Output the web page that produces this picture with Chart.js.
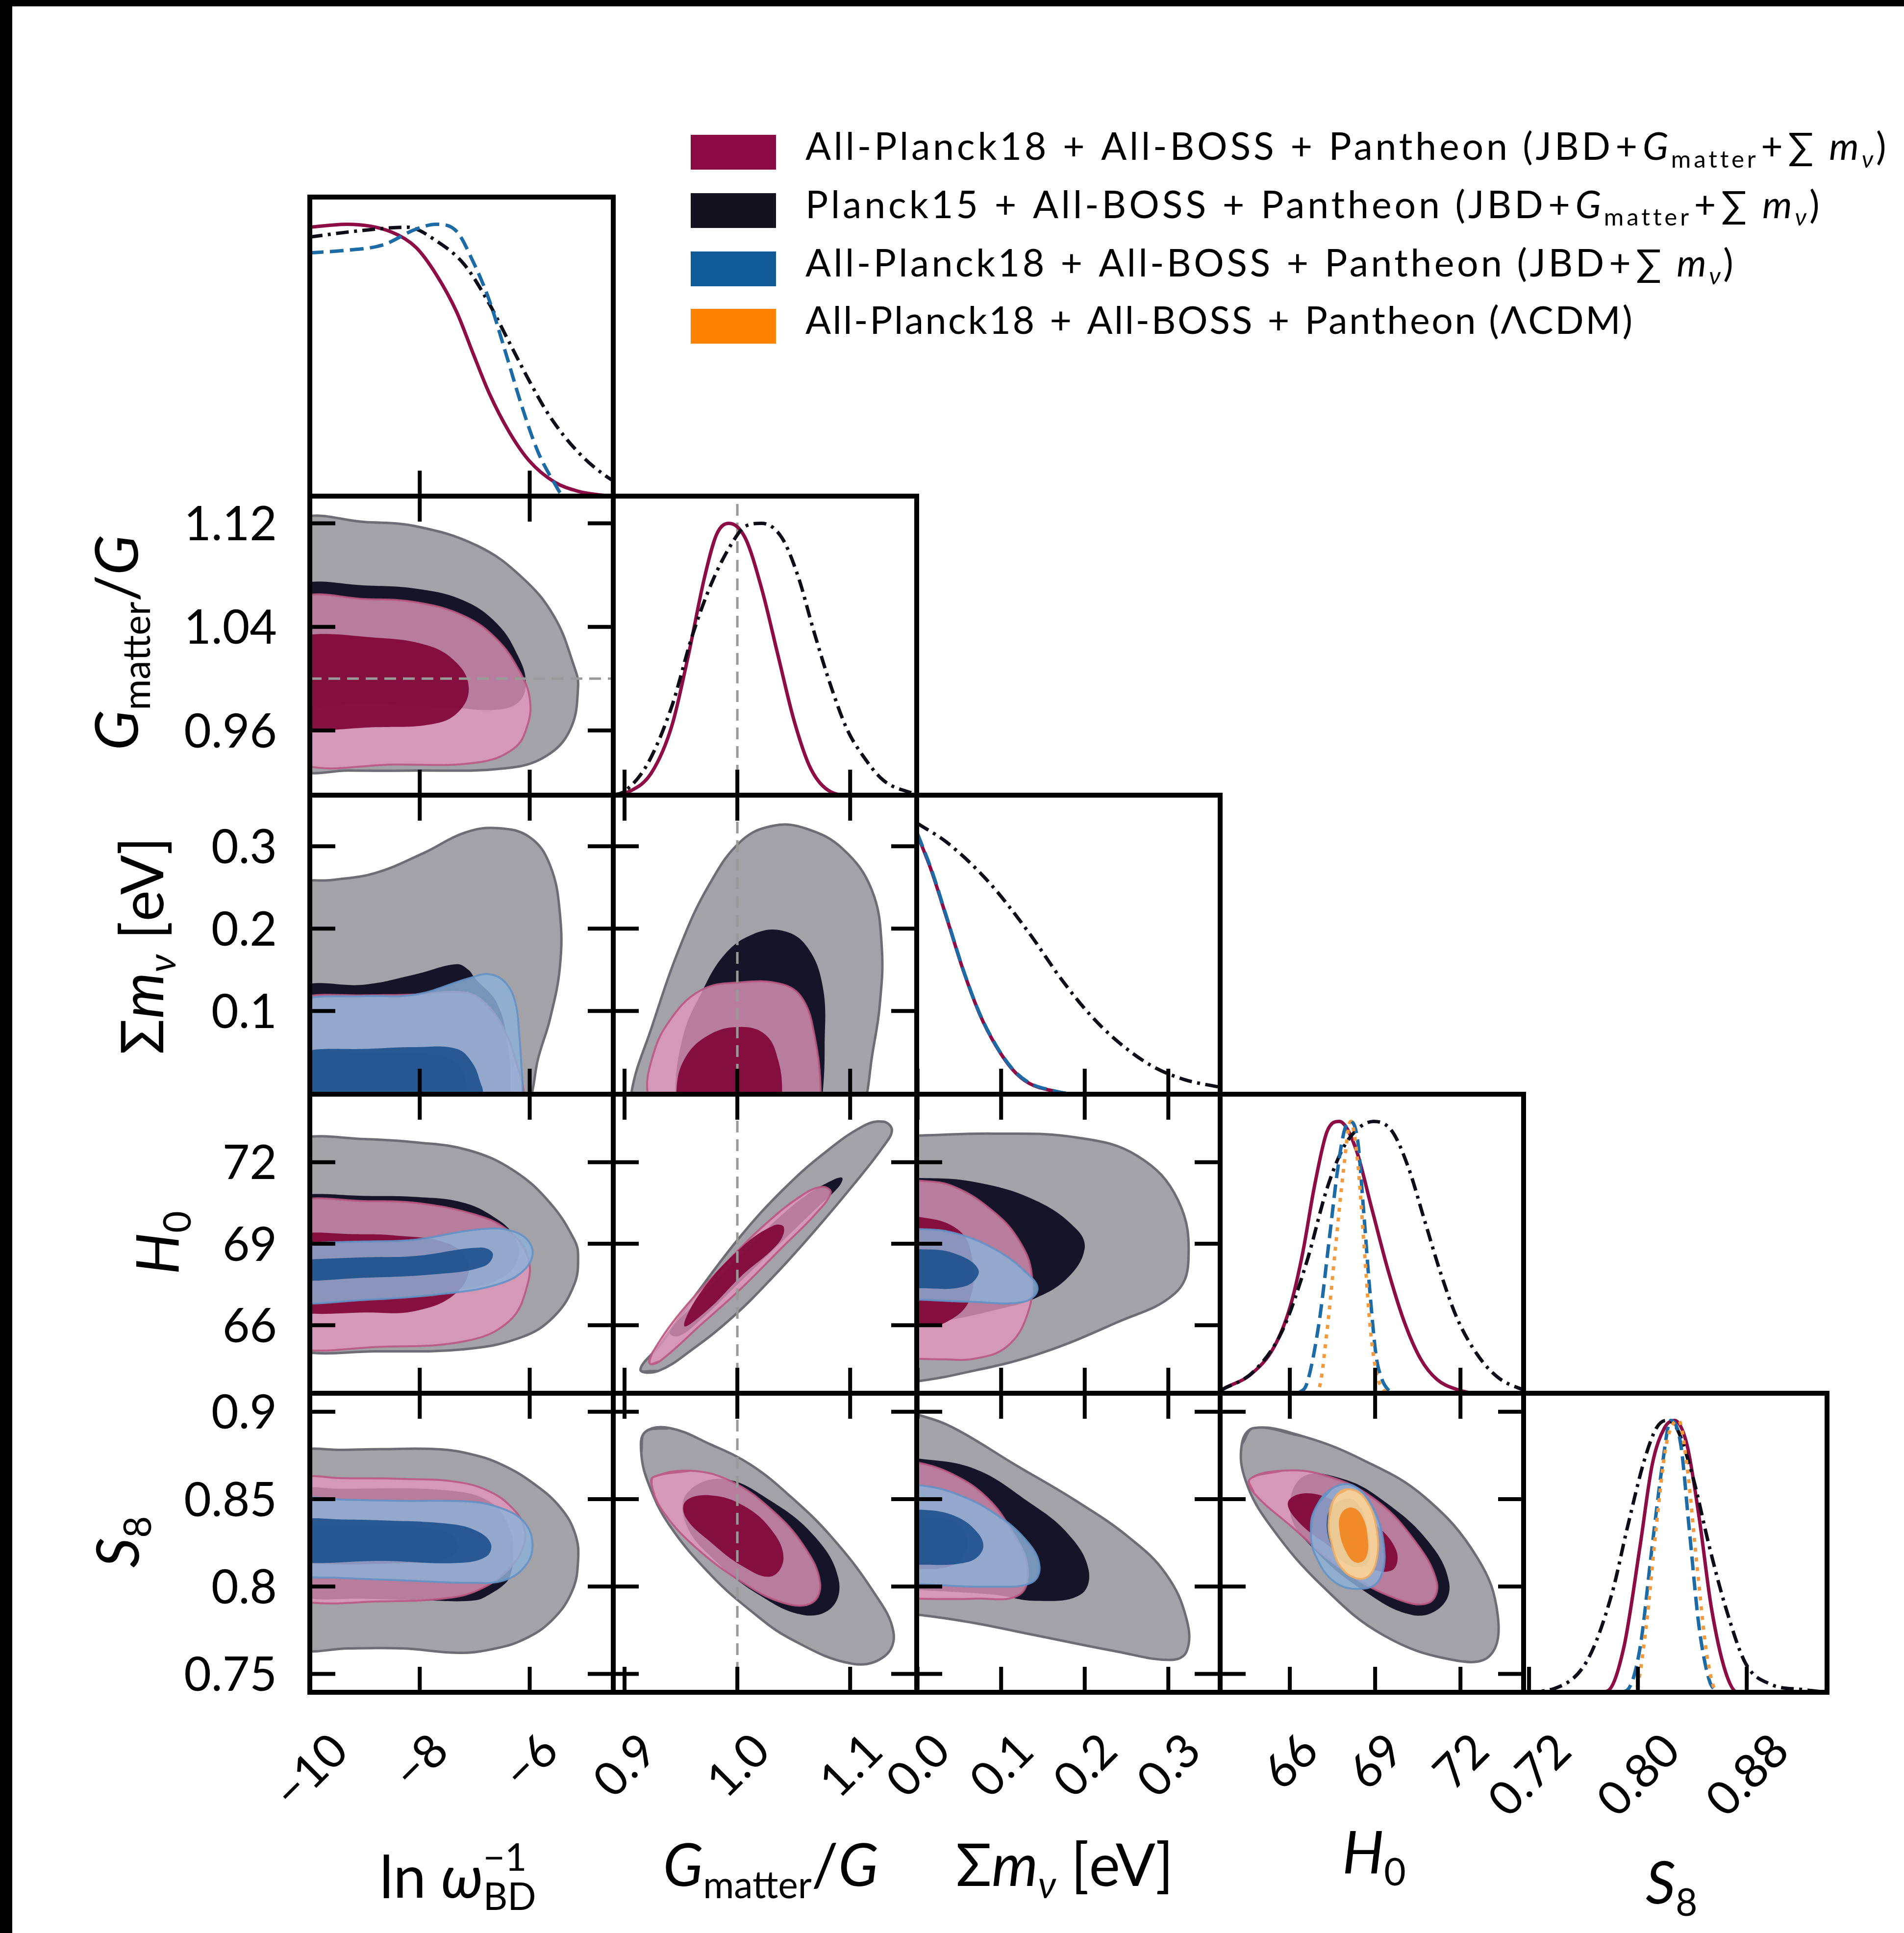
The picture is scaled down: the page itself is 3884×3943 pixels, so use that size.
<!DOCTYPE html>
<html>
<head>
<meta charset="utf-8">
<title>JBD + Gmatter + neutrino mass constraints</title>
<script src="https://cdn.jsdelivr.net/npm/chart.js@4.4.1/dist/chart.umd.min.js"></script>
<style>
  html, body { margin: 0; padding: 0; }
  body { width: 3884px; height: 3943px; position: relative; overflow: hidden; background: #fff;
         font-family: Lato, 'DejaVu Sans', sans-serif; color: #000; }
  .edge-top { position: absolute; left: 0; top: 0; width: 3884px; height: 13px; background: #000; }
  .edge-left { position: absolute; left: 0; top: 0; width: 25px; height: 3943px; background: #000; }
  canvas { position: absolute; }
  .lbl { position: absolute; white-space: nowrap; line-height: 1.2; }
  .lbl i { font-style: italic; }
  .sb { font-size: 0.64em; position: relative; top: 0.32em; }
  .sp { font-size: 0.64em; position: relative; top: -0.72em; }
  .op { margin: 0 0.36em; }
  .opi { margin: 0 0.06em; }
  .bl { display: inline-block; width: 0; height: 0; }
  .key { position: absolute; width: 174px; height: 71px; }
</style>
</head>
<body>
<div class="edge-top"></div>
<div class="edge-left"></div>
<script>
// ---- axis ranges and ticks ----
const lnwRange = [-10, -4.48];
const gRangeX = [0.890, 1.159];
const gRangeY = [0.910, 1.141];
const mnuRange = [-0.001, 0.362];
const h0RangeX = [63.55, 74.22];
const h0RangeY = [63.5, 74.5];
const s8RangeX = [0.716, 0.939];
const s8RangeY = [0.7395, 0.9106];
const pdfRange = [0, 1.1];

const lnwTicks = [-10, -8, -6];
const lnwTickLabels = ['\u221210', '\u22128', '\u22126'];
const gTicksX = [0.9, 1.0, 1.1];
const gTickLabelsX = ['0.9', '1.0', '1.1'];
const gTicksY = [0.96, 1.04, 1.12];
const gTickLabelsY = ['0.96', '1.04', '1.12'];
const mnuTicksX = [0.0, 0.1, 0.2, 0.3];
const mnuTickLabelsX = ['0.0', '0.1', '0.2', '0.3'];
const mnuTicksY = [0.1, 0.2, 0.3];
const mnuTickLabelsY = ['0.1', '0.2', '0.3'];
const h0Ticks = [66, 69, 72];
const h0TickLabels = ['66', '69', '72'];
const s8TicksX = [0.72, 0.80, 0.88];
const s8TickLabelsX = ['0.72', '0.80', '0.88'];
const s8TicksY = [0.75, 0.8, 0.85, 0.9];
const s8TickLabelsY = ['0.75', '0.8', '0.85', '0.9'];

// ---- 1D marginals (normalised to peak 1) ----
const lnwRed = [[-10.0,0.989],[-9.33,1.0],[-8.52,0.972],[-8.07,0.915],[-7.70,0.815],[-7.33,0.678],[-7.04,0.53],[-6.74,0.38],[-6.37,0.235],[-6.0,0.128],[-5.55,0.052],[-5.12,0.018],[-4.7,0.004],[-4.4,0.0]];
const lnwBlack = [[-10.0,0.953],[-9.19,0.974],[-8.22,0.989],[-7.70,0.939],[-7.19,0.852],[-6.74,0.709],[-6.37,0.565],[-6.0,0.421],[-5.63,0.292],[-5.12,0.162],[-4.52,0.061],[-4.3,0.04]];
const lnwBlue = [[-10.0,0.895],[-9.41,0.903],[-8.67,0.924],[-8.07,0.982],[-7.70,1.0],[-7.33,0.974],[-7.04,0.867],[-6.74,0.723],[-6.45,0.536],[-6.15,0.335],[-5.85,0.163],[-5.55,0.048],[-5.41,0.006],[-5.2,0.0],[-4.4,0.0]];

const gRed = [[0.885,0.0],[0.905,0.015],[0.924,0.083],[0.942,0.256],[0.9566,0.515],[0.971,0.803],[0.9817,0.96],[0.9926,1.0],[1.007,0.946],[1.0216,0.759],[1.036,0.515],[1.0505,0.271],[1.065,0.098],[1.083,0.012],[1.10,0.0],[1.16,0.0]];
const gBlack = [[0.888,0.0],[0.899,0.012],[0.920,0.112],[0.942,0.328],[0.960,0.586],[0.978,0.788],[0.996,0.932],[1.007,0.989],[1.0216,1.0],[1.0396,0.946],[1.054,0.803],[1.068,0.60],[1.083,0.40],[1.0973,0.242],[1.112,0.141],[1.1296,0.054],[1.16,0.0]];

const mnuRed = [[0.0,0.953],[0.0164,0.824],[0.036,0.637],[0.0553,0.45],[0.0747,0.292],[0.094,0.177],[0.1139,0.09],[0.1335,0.04],[0.1626,0.012],[0.19,0.0],[0.363,0.0]];
const mnuBlack = [[0.0,0.996],[0.036,0.924],[0.085,0.781],[0.1335,0.593],[0.1725,0.421],[0.2065,0.292],[0.2406,0.191],[0.2797,0.105],[0.319,0.054],[0.363,0.025]];
const mnuBlue = [[0.0,0.958],[0.0164,0.828],[0.036,0.64],[0.0553,0.452],[0.0747,0.294],[0.094,0.179],[0.1139,0.092],[0.1335,0.042],[0.1626,0.013],[0.19,0.0],[0.363,0.0]];

const h0Red = [[63.55,0.008],[63.74,0.02],[64.6,0.067],[65.45,0.171],[66.02,0.321],[66.45,0.515],[66.88,0.769],[67.31,0.963],[67.74,1.0],[68.31,0.903],[68.88,0.68],[69.45,0.454],[70.03,0.261],[70.6,0.126],[71.17,0.051],[71.88,0.014],[72.6,0.0],[74.22,0.0]];
const h0Black = [[63.55,0.01],[64.74,0.081],[65.74,0.231],[66.6,0.485],[67.31,0.754],[67.88,0.903],[68.45,0.978],[68.95,1.0],[69.6,0.963],[70.17,0.83],[70.74,0.635],[71.31,0.44],[71.88,0.276],[72.6,0.141],[73.31,0.059],[74.17,0.014],[74.3,0.01]];
const h0Blue = [[66.3,0.0],[66.6,0.036],[67.03,0.261],[67.38,0.56],[67.67,0.814],[67.91,0.963],[68.1,1.0],[68.38,0.934],[68.6,0.664],[68.81,0.38],[69.03,0.141],[69.24,0.051],[69.45,0.014],[69.7,0.0]];
const h0Orange = [[66.8,0.0],[67.03,0.02],[67.31,0.231],[67.6,0.53],[67.88,0.814],[68.14,1.0],[68.38,0.858],[68.6,0.56],[68.81,0.261],[69.03,0.081],[69.24,0.02],[69.45,0.0]];

const s8Red = [[0.770,0.0],[0.7777,0.005],[0.7896,0.164],[0.8016,0.538],[0.8105,0.837],[0.8195,0.972],[0.827,1.0],[0.836,0.912],[0.845,0.643],[0.8539,0.314],[0.8644,0.075],[0.8733,0.0],[0.88,0.0]];
const s8Black = [[0.716,0.0],[0.7387,0.014],[0.763,0.119],[0.7807,0.359],[0.7926,0.613],[0.8047,0.853],[0.8136,0.972],[0.8209,1.0],[0.8285,0.972],[0.8404,0.792],[0.8524,0.538],[0.8644,0.314],[0.8793,0.105],[0.8973,0.03],[0.921,0.01],[0.939,0.0]];
const s8Blue = [[0.787,0.0],[0.7926,0.01],[0.8016,0.164],[0.8105,0.538],[0.818,0.837],[0.824,1.0],[0.8315,0.912],[0.8375,0.613],[0.845,0.239],[0.8524,0.045],[0.858,0.0]];
const s8Orange = [[0.794,0.0],[0.7986,0.01],[0.806,0.239],[0.8136,0.613],[0.8209,0.912],[0.83,1.0],[0.836,0.837],[0.8435,0.463],[0.8508,0.134],[0.8584,0.0],[0.862,0.0]];

// ---- 2D contours (68% and 95% boundaries) ----
const lnwG_black95 = [[-10.85,1.027],[-10.7,1.095],[-10.2,1.1235],[-9.0,1.121],[-8.07,1.1177],[-6.96,1.1028],[-6.15,1.0786],[-5.56,1.0483],[-5.19,1.0092],[-5.12,0.994],[-5.26,0.961],[-5.71,0.94],[-6.45,0.9307],[-8.07,0.929],[-9.3,0.929],[-10.2,0.93],[-10.7,0.96]];
const lnwG_black68 = [[-10.85,1.027],[-10.7,1.058],[-10.2,1.0735],[-9.0,1.072],[-8.07,1.0695],[-7.21,1.0605],[-6.59,1.0423],[-6.22,1.0182],[-6.07,0.997],[-6.2,0.982],[-6.6,0.976],[-7.5,0.978],[-9.0,0.98],[-10.2,0.98],[-10.7,0.995]];
const lnwG_red95 = [[-10.85,0.998],[-10.7,1.04],[-10.2,1.063],[-9.0,1.0615],[-8.07,1.059],[-7.19,1.0483],[-6.59,1.03],[-6.19,1.006],[-6.0,0.985],[-6.04,0.964],[-6.29,0.946],[-6.96,0.9352],[-8.45,0.9337],[-10.2,0.934],[-10.7,0.96]];
const lnwG_red68 = [[-10.85,0.997],[-10.7,1.02],[-10.2,1.033],[-8.81,1.0317],[-7.85,1.0256],[-7.33,1.0122],[-7.11,0.994],[-7.26,0.976],[-7.7,0.9655],[-8.81,0.9625],[-10.2,0.962],[-10.7,0.975]];

const lnwMnu_black95 = [[-10.9,0.13],[-10.7,0.225],[-10.2,0.255],[-9.6,0.259],[-8.81,0.2675],[-7.93,0.2917],[-7.19,0.3163],[-6.59,0.322],[-6.0,0.311],[-5.63,0.277],[-5.45,0.218],[-5.45,0.154],[-5.63,0.0906],[-5.85,0.0414],[-5.96,0.0],[-6.1,-0.03],[-6.6,-0.045],[-8.5,-0.05],[-10.3,-0.04],[-10.8,0.02]];
const lnwMnu_black68 = [[-10.8,0.02],[-10.75,0.09],[-10.2,0.1295],[-9.0,0.132],[-8.07,0.1446],[-7.33,0.1568],[-7.11,0.1497],[-7.0,0.14],[-6.6,0.11],[-6.4,0.06],[-6.35,0.0],[-6.45,-0.03],[-8.0,-0.045],[-10.3,-0.035]];
const lnwMnu_red95 = [[-10.85,0.06],[-10.6,0.105],[-10.1,0.1177],[-9.0,0.119],[-8.07,0.12],[-7.19,0.1225],[-6.82,0.11],[-6.45,0.0757],[-6.22,0.032],[-6.11,0.0],[-6.2,-0.03],[-6.7,-0.045],[-8.5,-0.05],[-10.3,-0.04],[-10.8,0.0]];
const lnwMnu_red68 = [[-10.6,0.035],[-10.1,0.049],[-9.0,0.05],[-7.8,0.048],[-7.3,0.035],[-7.15,0.0],[-7.3,-0.03],[-8.5,-0.045],[-10.3,-0.035],[-10.8,0.0]];
const lnwMnu_blue95 = [[-10.85,0.06],[-10.6,0.1],[-10.1,0.115],[-9.0,0.118],[-8.07,0.12],[-7.11,0.1396],[-6.74,0.1446],[-6.45,0.135],[-6.26,0.11],[-6.19,0.0709],[-6.15,0.032],[-6.13,0.0],[-6.2,-0.03],[-6.7,-0.045],[-8.5,-0.05],[-10.3,-0.04],[-10.8,0.0]];
const lnwMnu_blue68 = [[-10.6,0.038],[-10.1,0.0515],[-9.0,0.054],[-8.07,0.0562],[-7.33,0.054],[-7.04,0.0367],[-6.89,0.012],[-6.85,0.0],[-6.95,-0.03],[-8.5,-0.045],[-10.3,-0.035],[-10.8,0.0]];

const lnwH0_black95 = [[-10.9,68.9],[-10.7,72.3],[-10.2,72.89],[-9.0,72.85],[-8.07,72.73],[-7.11,72.44],[-6.29,71.69],[-5.63,70.5],[-5.19,69.15],[-5.12,68.55],[-5.19,67.5],[-5.56,66.32],[-6.15,65.56],[-7.19,65.12],[-8.81,65.04],[-10.2,65.04],[-10.7,65.6]];
const lnwH0_black68 = [[-10.9,69.0],[-10.7,70.4],[-10.2,70.79],[-9.0,70.76],[-8.07,70.72],[-7.19,70.5],[-6.59,69.9],[-6.29,69.3],[-6.2,68.6],[-6.4,67.9],[-7.0,67.4],[-8.5,67.2],[-10.2,67.2],[-10.7,67.6]];
const lnwH0_red95 = [[-10.9,67.9],[-10.7,70.1],[-10.2,70.62],[-9.0,70.57],[-8.07,70.5],[-6.96,70.05],[-6.37,69.45],[-6.04,68.55],[-6.04,67.5],[-6.37,66.16],[-7.19,65.41],[-8.81,65.2],[-10.2,65.11],[-10.7,65.6]];
const lnwH0_red68 = [[-10.9,67.9],[-10.7,69.0],[-10.2,69.37],[-9.2,69.35],[-8.45,69.3],[-7.48,69.0],[-7.11,68.25],[-7.33,67.2],[-8.07,66.53],[-9.0,66.47],[-10.2,66.46],[-10.7,66.8]];
const lnwH0_blue95 = [[-10.9,68.0],[-10.7,68.8],[-10.2,69.0],[-9.0,69.08],[-8.07,69.15],[-6.96,69.52],[-6.29,69.45],[-5.96,68.86],[-6.07,68.1],[-6.59,67.5],[-7.7,67.13],[-9.19,66.91],[-10.2,66.82],[-10.7,67.1]];
const lnwH0_blue68 = [[-10.85,68.05],[-10.7,68.3],[-10.2,68.4],[-9.0,68.5],[-8.07,68.55],[-6.89,68.86],[-6.67,68.63],[-6.82,68.18],[-7.7,67.88],[-9.19,67.73],[-10.2,67.64],[-10.7,67.8]];

const lnwS8_black95 = [[-10.9,0.82],[-10.7,0.869],[-10.2,0.8779],[-9.4,0.8782],[-8.7,0.8786],[-7.7,0.8786],[-7.1,0.876],[-6.51,0.8698],[-5.91,0.8585],[-5.43,0.8447],[-5.17,0.8298],[-5.12,0.8147],[-5.23,0.7973],[-5.59,0.7809],[-6.11,0.7697],[-6.71,0.764],[-7.31,0.7621],[-8.3,0.7646],[-9.3,0.7646],[-10.2,0.7635],[-10.7,0.772]];
const lnwS8_black68 = [[-10.9,0.825],[-10.7,0.847],[-10.2,0.856],[-9.5,0.856],[-7.5,0.855],[-6.7,0.848],[-6.35,0.832],[-6.3,0.815],[-6.36,0.806],[-6.45,0.8016],[-6.71,0.7959],[-7.0,0.7921],[-7.9,0.7921],[-9.0,0.793],[-10.2,0.794],[-10.7,0.803]];
const lnwS8_red95 = [[-10.9,0.827],[-10.7,0.853],[-10.2,0.8623],[-9.4,0.862],[-8.3,0.8616],[-7.31,0.8598],[-6.71,0.8541],[-6.31,0.8447],[-6.11,0.8347],[-6.11,0.8234],[-6.39,0.8097],[-6.91,0.7984],[-7.5,0.7934],[-8.7,0.7915],[-10.2,0.7915],[-10.7,0.8]];
const lnwS8_red68 = [[-10.8,0.825],[-10.7,0.832],[-10.2,0.835],[-9.4,0.835],[-7.9,0.834],[-7.4,0.829],[-7.3,0.822],[-7.5,0.816],[-8.2,0.8135],[-10.2,0.8135],[-10.7,0.818]];
const lnwS8_blue95 = [[-10.9,0.828],[-10.7,0.843],[-10.2,0.8504],[-9.4,0.8497],[-8.3,0.849],[-7.1,0.8486],[-6.51,0.8447],[-6.11,0.8372],[-5.95,0.8248],[-6.07,0.8122],[-6.47,0.8035],[-7.1,0.8022],[-8.3,0.8035],[-9.5,0.805],[-10.2,0.8063],[-10.7,0.813]];
const lnwS8_blue68 = [[-10.85,0.826],[-10.7,0.833],[-10.2,0.8385],[-9.4,0.8384],[-8.7,0.8379],[-7.5,0.836],[-6.99,0.8322],[-6.71,0.8248],[-6.79,0.8172],[-7.31,0.8135],[-8.7,0.8147],[-10.2,0.8139],[-10.7,0.819]];

const gMnu_black95 = [[1.0,-0.05],[0.95,-0.05],[0.91,-0.035],[0.906,0.0],[0.9242,0.0807],[0.9494,0.1789],[0.9747,0.2525],[1.0035,0.3065],[1.0323,0.325],[1.0612,0.3213],[1.0935,0.2967],[1.119,0.2475],[1.128,0.1789],[1.1261,0.1053],[1.119,0.0414],[1.115,0.0],[1.11,-0.03],[1.08,-0.05]];
const gMnu_black68 = [[1.0,-0.045],[0.95,-0.035],[0.945,0.0],[0.952,0.07],[0.9674,0.12],[0.989,0.169],[1.0143,0.1935],[1.0396,0.1976],[1.0613,0.1789],[1.0757,0.1298],[1.0774,0.0562],[1.0757,0.0],[1.072,-0.03]];
const gMnu_red95 = [[1.0,-0.045],[0.93,-0.035],[0.9204,0.0],[0.9242,0.0414],[0.9387,0.0858],[0.9674,0.125],[1.0035,0.1349],[1.0396,0.1325],[1.0576,0.1151],[1.0683,0.0709],[1.0739,0.0],[1.07,-0.03]];
const gMnu_red68 = [[0.99,-0.035],[0.95,-0.025],[0.9459,0.0],[0.953,0.0414],[0.9747,0.0709],[1.0035,0.0807],[1.0252,0.0709],[1.036,0.0414],[1.0396,0.0],[1.035,-0.025]];

const gH0_black95 = [[0.9141,64.37],[0.9313,65.27],[0.9674,67.36],[1.0035,69.31],[1.0396,70.95],[1.0757,72.29],[1.1117,73.33],[1.1296,73.49],[1.137,73.18],[1.1296,72.59],[1.1043,71.24],[1.068,69.45],[1.0323,67.81],[0.9963,66.32],[0.9603,65.12],[0.93,64.32]];
const gH0_black68 = [[0.94,65.75],[0.96,66.7],[0.99,68.05],[1.03,69.7],[1.06,70.75],[1.085,71.35],[1.093,71.42],[1.09,71.1],[1.07,70.3],[1.04,69.1],[1.0,67.5],[0.97,66.3],[0.948,65.6]];
const gH0_red95 = [[0.9224,64.59],[0.9242,64.96],[0.9494,66.46],[0.9855,68.1],[1.0216,69.6],[1.0576,70.79],[1.0757,71.09],[1.0828,70.87],[1.0683,70.05],[1.0396,68.86],[1.0035,67.36],[0.9674,66.01],[0.9313,64.68]];
const gH0_red68 = [[0.9674,67.21],[1.0035,68.86],[1.0323,69.67],[1.0413,69.6],[1.036,69.0],[1.0035,67.81],[0.9747,66.6],[0.953,65.97]];

const gS8_black95 = [[0.9183,0.8884],[0.94,0.8907],[0.976,0.8814],[1.012,0.8696],[1.048,0.851],[1.0841,0.8279],[1.12,0.7976],[1.1383,0.7743],[1.131,0.7604],[1.1022,0.7558],[1.048,0.7698],[1.012,0.7861],[0.976,0.807],[0.94,0.8349],[0.9217,0.8581],[0.9148,0.8766]];
const gS8_black68 = [[0.9868,0.8616],[1.03,0.8489],[1.0696,0.8279],[1.0896,0.8046],[1.0841,0.7883],[1.0589,0.7837],[1.019,0.7953],[0.98,0.815],[0.955,0.835],[0.955,0.853]];
const gS8_red95 = [[0.9255,0.8627],[0.9578,0.8663],[0.9939,0.8604],[1.03,0.8441],[1.0589,0.8232],[1.0733,0.8023],[1.0661,0.7907],[1.0409,0.7907],[1.0048,0.8023],[0.9616,0.8232],[0.9329,0.8441],[0.924,0.8581]];
const gS8_red68 = [[0.9543,0.8489],[0.976,0.8522],[1.0048,0.8465],[1.03,0.8326],[1.0409,0.8162],[1.03,0.8058],[1.0048,0.8116],[0.976,0.8256],[0.9543,0.8395]];

const mnuH0_black95 = [[-0.05,68.5],[-0.04,72.4],[-0.02,72.95],[0.0047,72.98],[0.0924,73.05],[0.19,72.91],[0.263,72.23],[0.3118,70.59],[0.324,68.35],[0.307,67.15],[0.2388,66.11],[0.1412,64.91],[0.0435,64.17],[0.0,63.94],[-0.02,63.9],[-0.04,64.5]];
const mnuH0_black68 = [[-0.045,68.7],[-0.04,70.6],[-0.02,71.35],[0.0,71.42],[0.068,71.27],[0.1412,70.59],[0.19,69.54],[0.1998,68.8],[0.18,67.76],[0.1412,67.0],[0.0924,66.56],[0.04,66.2],[0.0,66.0],[-0.02,66.1],[-0.04,67.0]];
const mnuH0_red95 = [[-0.045,68.0],[-0.04,70.6],[-0.02,71.25],[0.0,71.32],[0.0435,71.1],[0.0924,70.14],[0.1218,69.1],[0.1365,67.9],[0.1315,66.41],[0.107,65.22],[0.068,64.77],[0.03,64.75],[0.0,64.77],[-0.02,64.85],[-0.04,65.5]];
const mnuH0_red68 = [[-0.04,68.0],[-0.035,69.3],[-0.02,69.93],[0.0,69.99],[0.0435,69.62],[0.063,68.8],[0.063,67.0],[0.034,66.11],[0.0,65.95],[-0.02,66.05],[-0.035,66.8]];
const mnuH0_blue95 = [[-0.04,68.25],[-0.035,69.0],[-0.02,69.5],[0.0,69.54],[0.0435,69.4],[0.0924,68.8],[0.1315,67.9],[0.1435,67.31],[0.1265,66.86],[0.068,66.86],[0.0,66.95],[-0.02,67.0],[-0.035,67.6]];
const mnuH0_blue68 = [[-0.03,68.05],[-0.02,68.75],[0.0,68.8],[0.0435,68.65],[0.0729,68.04],[0.0582,67.45],[0.0,67.36],[-0.02,67.4]];

const mnuS8_black95 = [[-0.05,0.84],[-0.04,0.885],[-0.02,0.9],[0.0047,0.8977],[0.0435,0.8907],[0.1168,0.8697],[0.19,0.8489],[0.2535,0.8279],[0.2974,0.807],[0.3218,0.7814],[0.3218,0.7628],[0.3024,0.758],[0.2388,0.7628],[0.1412,0.7721],[0.068,0.7791],[0.0047,0.7837],[-0.02,0.785],[-0.04,0.8]];
const mnuS8_black68 = [[-0.04,0.836],[-0.035,0.862],[-0.02,0.873],[0.0,0.8733],[0.068,0.8674],[0.1315,0.8489],[0.18,0.8302],[0.2047,0.8094],[0.1947,0.7953],[0.1412,0.7918],[0.0924,0.7953],[0.0,0.7981],[-0.02,0.799],[-0.035,0.81]];
const mnuS8_red95 = [[-0.04,0.832],[-0.035,0.86],[-0.02,0.87],[0.0,0.8709],[0.0435,0.8639],[0.0827,0.851],[0.1118,0.8326],[0.1315,0.8116],[0.1218,0.7953],[0.068,0.7931],[0.0,0.7931],[-0.02,0.794],[-0.035,0.805]];
const mnuS8_red68 = [[-0.03,0.825],[-0.02,0.839],[0.0,0.84],[0.04,0.838],[0.06,0.826],[0.045,0.813],[0.0,0.81],[-0.02,0.812]];
const mnuS8_blue95 = [[-0.04,0.83],[-0.035,0.848],[-0.02,0.857],[0.0,0.8581],[0.0435,0.8535],[0.0924,0.8418],[0.1315,0.8256],[0.1459,0.8116],[0.1365,0.8023],[0.0924,0.7999],[0.0,0.8014],[-0.02,0.802],[-0.035,0.812]];
const mnuS8_blue68 = [[-0.03,0.828],[-0.02,0.843],[0.0,0.8441],[0.0435,0.8406],[0.0729,0.8302],[0.0777,0.8208],[0.0582,0.8138],[0.0,0.8125],[-0.02,0.813],[-0.03,0.82]];

const h0S8_black95 = [[64.74,0.8907],[66.45,0.886],[68.6,0.8722],[70.74,0.8512],[72.6,0.8163],[73.31,0.7837],[73.03,0.7604],[71.74,0.758],[69.31,0.772],[67.17,0.7999],[65.31,0.8349],[64.45,0.8604],[64.31,0.8814]];
const h0S8_black68 = [[66.45,0.8627],[67.88,0.8615],[69.31,0.8489],[70.88,0.8256],[71.6,0.8023],[71.31,0.7883],[70.31,0.7837],[68.6,0.7976],[66.88,0.8208],[66.02,0.8418]];
const h0S8_red95 = [[64.6,0.8615],[65.74,0.8663],[67.17,0.8639],[68.88,0.8512],[70.31,0.8279],[71.17,0.8023],[70.88,0.7907],[69.74,0.7931],[67.88,0.8094],[66.02,0.8349],[64.74,0.8535]];
const h0S8_red68 = [[65.95,0.8489],[66.6,0.8534],[67.6,0.8489],[68.88,0.8371],[69.74,0.8208],[69.6,0.8094],[68.6,0.8116],[67.17,0.8256],[66.17,0.8395]];
const h0S8_blue95 = [[66.88,0.8441],[67.45,0.8557],[68.17,0.8581],[68.88,0.8465],[69.31,0.8232],[69.17,0.8046],[68.6,0.7988],[67.6,0.8023],[66.88,0.8186],[66.74,0.8326]];
const h0S8_blue68 = [[67.31,0.8395],[67.74,0.8489],[68.31,0.8489],[68.74,0.8326],[68.74,0.8138],[68.17,0.8116],[67.53,0.8208]];
const h0S8_orange95 = [[67.6,0.8512],[68.03,0.8557],[68.6,0.8512],[69.03,0.8349],[69.03,0.8138],[68.6,0.8046],[67.88,0.8094],[67.45,0.8256],[67.38,0.8395]];
const h0S8_orange68 = [[67.81,0.8418],[68.17,0.8452],[68.53,0.8407],[68.74,0.8279],[68.67,0.8163],[68.31,0.8138],[67.95,0.8208],[67.74,0.8326]];

// G_matter/G = 1 reference
const gReference = 1.0;

// legend
const plus = '<span class="op">+</span>';
const plusIn = '<span class="opi">+</span>';
const legendLabels = [
  `All-Planck18${plus}All-BOSS${plus}Pantheon (JBD${plusIn}<i>G</i><span class="sb">matter</span>${plusIn}\u2211 <i>m</i><span class="sb"><i>\u03bd</i></span>)`,
  `Planck15${plus}All-BOSS${plus}Pantheon (JBD${plusIn}<i>G</i><span class="sb">matter</span>${plusIn}\u2211 <i>m</i><span class="sb"><i>\u03bd</i></span>)`,
  `All-Planck18${plus}All-BOSS${plus}Pantheon (JBD${plusIn}\u2211 <i>m</i><span class="sb"><i>\u03bd</i></span>)`,
  `All-Planck18${plus}All-BOSS${plus}Pantheon (\u039bCDM)`
];
const legendColors = ['#8a0b43', '#14121f', '#0f5b97', '#ff8200'];
const legendWidths = [2209, 2073, 1898, 1691];

// ---- styles ----
const shades = {
  black:  { f95: 'rgb(163,162,168)',        e95: 'rgb(110,109,118)', f68: 'rgb(22,20,40)',           line: '#0d0d18' },
  red:    { f95: 'rgba(225,150,185,0.80)',  e95: 'rgba(185,88,130,0.9)', f68: 'rgba(128,6,56,0.93)', line: '#8e0c45' },
  blue:   { f95: 'rgba(140,178,216,0.82)',  e95: 'rgba(100,145,196,0.9)', f68: 'rgba(28,80,140,0.9)', line: '#1c6aa6' },
  orange: { f95: 'rgba(252,210,150,0.92)',  e95: 'rgba(236,172,100,0.9)', f68: 'rgba(240,136,36,0.96)', line: '#f39a3d' }
};
const dashes = { red: [], black: [26, 11, 6, 11], blue: [28, 13], orange: [8, 12] };

const pts = a => a.map(([x, y]) => ({ x, y }));

function marginal(data, chain) {
  return {
    data: pts(data), showLine: true, fill: false,
    borderColor: shades[chain].line, borderWidth: 7, borderDash: dashes[chain],
    cubicInterpolationMode: 'monotone', pointRadius: 0
  };
}

// closed contour: wrap the ends so the spline joins smoothly
function region(data, fillColor, edgeColor, edgeWidth) {
  const n = data.length;
  const ring = [data[n - 1], ...data, data[0], data[1]];
  return {
    data: pts(ring), showLine: true, fill: 'shape',
    backgroundColor: fillColor, borderColor: edgeColor || 'rgba(0,0,0,0)', borderWidth: edgeWidth || 1,
    tension: 0.4, pointRadius: 0
  };
}

function pair(chain, d95, d68) {
  const s = shades[chain];
  return [region(d95, s.f95, s.e95, chain === 'black' ? 5 : 4), region(d68, s.f68)];
}

function refLine(data) {
  return { data: pts(data), showLine: true, fill: false, borderColor: '#999999', borderWidth: 5, borderDash: [24, 14], tension: 0, pointRadius: 0 };
}
const vRef = yr => refLine([[gReference, yr[0]], [gReference, yr[1]]]);

// ---- grid layout ----
const colX = [632, 1251, 1870, 2489, 3108, 3727];
const rowY = [402, 1012, 1622, 2232, 2842, 3452];
const xRanges = [lnwRange, gRangeX, mnuRange, h0RangeX, s8RangeX];
const yRanges = [pdfRange, gRangeY, mnuRange, h0RangeY, s8RangeY];
const xTickSets = [lnwTicks, gTicksX, mnuTicksX, h0Ticks, s8TicksX];
const xTickText = [lnwTickLabels, gTickLabelsX, mnuTickLabelsX, h0TickLabels, s8TickLabelsX];
const yTickSets = [[], gTicksY, mnuTicksY, h0Ticks, s8TicksY];
const yTickText = [[], gTickLabelsY, mnuTickLabelsY, h0TickLabels, s8TickLabelsY];

// datasets listed bottom layer first
const panelData = {
  '0,0': [marginal(lnwRed, 'red'), marginal(lnwBlack, 'black'), marginal(lnwBlue, 'blue')],
  '1,1': [vRef(pdfRange), marginal(gRed, 'red'), marginal(gBlack, 'black')],
  '2,2': [marginal(mnuBlack, 'black'), marginal(mnuRed, 'red'), marginal(mnuBlue, 'blue')],
  '3,3': [marginal(h0Red, 'red'), marginal(h0Black, 'black'), marginal(h0Blue, 'blue'), marginal(h0Orange, 'orange')],
  '4,4': [marginal(s8Red, 'red'), marginal(s8Black, 'black'), marginal(s8Blue, 'blue'), marginal(s8Orange, 'orange')],
  '1,0': [...pair('black', lnwG_black95, lnwG_black68), ...pair('red', lnwG_red95, lnwG_red68),
          refLine([[lnwRange[0], gReference], [lnwRange[1], gReference]])],
  '2,0': [...pair('black', lnwMnu_black95, lnwMnu_black68), ...pair('red', lnwMnu_red95, lnwMnu_red68),
          ...pair('blue', lnwMnu_blue95, lnwMnu_blue68)],
  '3,0': [...pair('black', lnwH0_black95, lnwH0_black68), ...pair('red', lnwH0_red95, lnwH0_red68),
          ...pair('blue', lnwH0_blue95, lnwH0_blue68)],
  '4,0': [...pair('black', lnwS8_black95, lnwS8_black68), ...pair('red', lnwS8_red95, lnwS8_red68),
          ...pair('blue', lnwS8_blue95, lnwS8_blue68)],
  '2,1': [...pair('black', gMnu_black95, gMnu_black68), ...pair('red', gMnu_red95, gMnu_red68), vRef(mnuRange)],
  '3,1': [...pair('black', gH0_black95, gH0_black68), ...pair('red', gH0_red95, gH0_red68), vRef(h0RangeY)],
  '4,1': [...pair('black', gS8_black95, gS8_black68), ...pair('red', gS8_red95, gS8_red68), vRef(s8RangeY)],
  '3,2': [...pair('black', mnuH0_black95, mnuH0_black68), ...pair('red', mnuH0_red95, mnuH0_red68),
          ...pair('blue', mnuH0_blue95, mnuH0_blue68)],
  '4,2': [...pair('black', mnuS8_black95, mnuS8_black68), ...pair('red', mnuS8_red95, mnuS8_red68),
          ...pair('blue', mnuS8_blue95, mnuS8_blue68)],
  '4,3': [...pair('black', h0S8_black95, h0S8_black68), ...pair('red', h0S8_red95, h0S8_red68),
          ...pair('blue', h0S8_blue95, h0S8_blue68), ...pair('orange', h0S8_orange95, h0S8_orange68)]
};

const TICK_PX = 96;
const TICK_LEN = 52;

// inward ticks, frame and outer tick labels
function frameFor(cfg) {
  return {
    id: 'panelFrame',
    afterDatasetsDraw(chart) {
      const { ctx, chartArea: a } = chart;
      const sx = chart.scales.x, sy = chart.scales.y;
      ctx.save();
      ctx.setLineDash([]);
      ctx.strokeStyle = '#000';
      ctx.lineWidth = 8;
      ctx.beginPath();
      cfg.xTicks.forEach(v => {
        const px = sx.getPixelForValue(v);
        ctx.moveTo(px, a.bottom); ctx.lineTo(px, a.bottom - TICK_LEN);
        if (!cfg.diag) { ctx.moveTo(px, a.top); ctx.lineTo(px, a.top + TICK_LEN); }
      });
      cfg.yTicks.forEach(v => {
        const py = sy.getPixelForValue(v);
        ctx.moveTo(a.left, py); ctx.lineTo(a.left + TICK_LEN, py);
        ctx.moveTo(a.right, py); ctx.lineTo(a.right - TICK_LEN, py);
      });
      ctx.stroke();
      ctx.lineWidth = 10;
      ctx.strokeRect(a.left, a.top, a.right - a.left, a.bottom - a.top);

      ctx.fillStyle = '#000';
      ctx.font = TICK_PX + 'px Lato, "DejaVu Sans", sans-serif';
      const h = TICK_PX * 0.72;
      if (cfg.yLabels) {
        ctx.textAlign = 'right';
        ctx.textBaseline = 'alphabetic';
        cfg.yTicks.forEach((v, i) => ctx.fillText(cfg.yLabels[i], a.left - 67, sy.getPixelForValue(v) + h / 2));
      }
      if (cfg.xLabels) {
        cfg.xTicks.forEach((v, i) => {
          const t = cfg.xLabels[i];
          const d = (ctx.measureText(t).width + h) * Math.SQRT1_2;
          ctx.save();
          ctx.translate(sx.getPixelForValue(v), a.bottom + 76 + d / 2);
          ctx.rotate(-Math.PI / 4);
          ctx.textAlign = 'center';
          ctx.textBaseline = 'alphabetic';
          ctx.fillText(t, 0, h / 2);
          ctx.restore();
        });
      }
      ctx.restore();
    }
  };
}

function makePanel(r, c) {
  const diag = r === c;
  const bottomRow = r === 4;
  const padL = c === 0 ? 300 : (bottomRow ? 160 : 14);
  const padR = bottomRow ? 160 : 14, padT = 14, padB = bottomRow ? 320 : 14;
  const w = colX[c + 1] - colX[c], h = rowY[r + 1] - rowY[r];
  const cv = document.createElement('canvas');
  cv.width = w + padL + padR;
  cv.height = h + padT + padB;
  cv.style.left = (colX[c] - padL) + 'px';
  cv.style.top = (rowY[r] - padT) + 'px';
  cv.style.width = cv.width + 'px';
  cv.style.height = cv.height + 'px';
  document.body.appendChild(cv);

  const yr = diag ? pdfRange : yRanges[r];
  const cfg = {
    diag,
    xTicks: xTickSets[c],
    yTicks: diag ? [] : yTickSets[r],
    xLabels: bottomRow ? xTickText[c] : null,
    yLabels: (c === 0 && !diag) ? yTickText[r] : null
  };
  // Chart.js paints the first dataset on top, so reverse the bottom-first list
  const datasets = panelData[r + ',' + c].slice().reverse();

  new Chart(cv, {
    type: 'scatter',
    data: { datasets },
    options: {
      responsive: false,
      animation: false,
      devicePixelRatio: 1,
      events: [],
      layout: { padding: { left: padL, right: padR, top: padT, bottom: padB } },
      elements: { point: { radius: 0 }, line: { capBezierPoints: false } },
      scales: {
        x: { type: 'linear', display: false, min: xRanges[c][0], max: xRanges[c][1] },
        y: { type: 'linear', display: false, min: yr[0], max: yr[1] }
      },
      plugins: { legend: { display: false }, tooltip: { enabled: false } }
    },
    plugins: [frameFor(cfg)]
  });
}

for (let r = 0; r < 5; r++) {
  for (let c = 0; c <= r; c++) makePanel(r, c);
}

// ---- text placed by baseline ----
function placeText(html, x, y, size, mode, width) {
  const el = document.createElement('div');
  el.className = 'lbl';
  el.style.fontSize = size + 'px';
  el.innerHTML = html + '<span class="bl"></span>';
  document.body.appendChild(el);
  el.querySelectorAll('.under').forEach(s => {
    const sup = s.previousElementSibling;
    s.style.marginLeft = (-sup.offsetWidth) + 'px';
  });
  if (width) {
    // spread the letters a little so the line spans the wanted width
    const n = el.textContent.length;
    el.style.letterSpacing = Math.max(0, (width - el.offsetWidth) / n) + 'px';
  }
  const w = el.offsetWidth;
  const b = el.querySelector('.bl').offsetTop;
  if (mode === 'left') {
    el.style.left = x + 'px';
    el.style.top = (y - b) + 'px';
  } else if (mode === 'rot') {
    el.style.left = (x - w / 2) + 'px';
    el.style.top = (y - b) + 'px';
    el.style.transformOrigin = (w / 2) + 'px ' + b + 'px';
    el.style.transform = 'rotate(-90deg)';
  } else {
    el.style.left = (x - w / 2) + 'px';
    el.style.top = (y - b) + 'px';
  }
  return el;
}

const titleG = '<i>G</i><span class="sb">matter</span>/<i>G</i>';
const titleMnu = '\u03a3<i>m</i><span class="sb"><i>\u03bd</i></span> [eV]';
const titleH0 = '<i>H</i><span class="sb">0</span>';
const titleS8 = '<i>S</i><span class="sb">8</span>';
const titleLnw = 'ln <i>\u03c9</i><span class="sp">\u22121</span><span class="sb under">BD</span>';

const TITLE_PX = 120;
placeText(titleLnw, 934, 3871, TITLE_PX);
placeText(titleG, 1572, 3847, TITLE_PX);
placeText(titleMnu, 2172, 3847, TITLE_PX);
placeText(titleH0, 2803, 3821, TITLE_PX);
placeText(titleS8, 3410, 3883, TITLE_PX);

placeText(titleG, 280, 1311, TITLE_PX, 'rot');
placeText(titleMnu, 333, 1929, TITLE_PX, 'rot');
placeText(titleH0, 364, 2535, TITLE_PX, 'rot');
placeText(titleS8, 283, 3145, TITLE_PX, 'rot');

// legend
const keyTops = [275, 393.5, 513, 630];
legendLabels.forEach((html, i) => {
  const k = document.createElement('div');
  k.className = 'key';
  k.style.left = '1409px';
  k.style.top = keyTops[i] + 'px';
  k.style.background = legendColors[i];
  document.body.appendChild(k);
  placeText(html, 1643, keyTops[i] + 51, 77, 'left', legendWidths[i]);
});
</script>
</body>
</html>
